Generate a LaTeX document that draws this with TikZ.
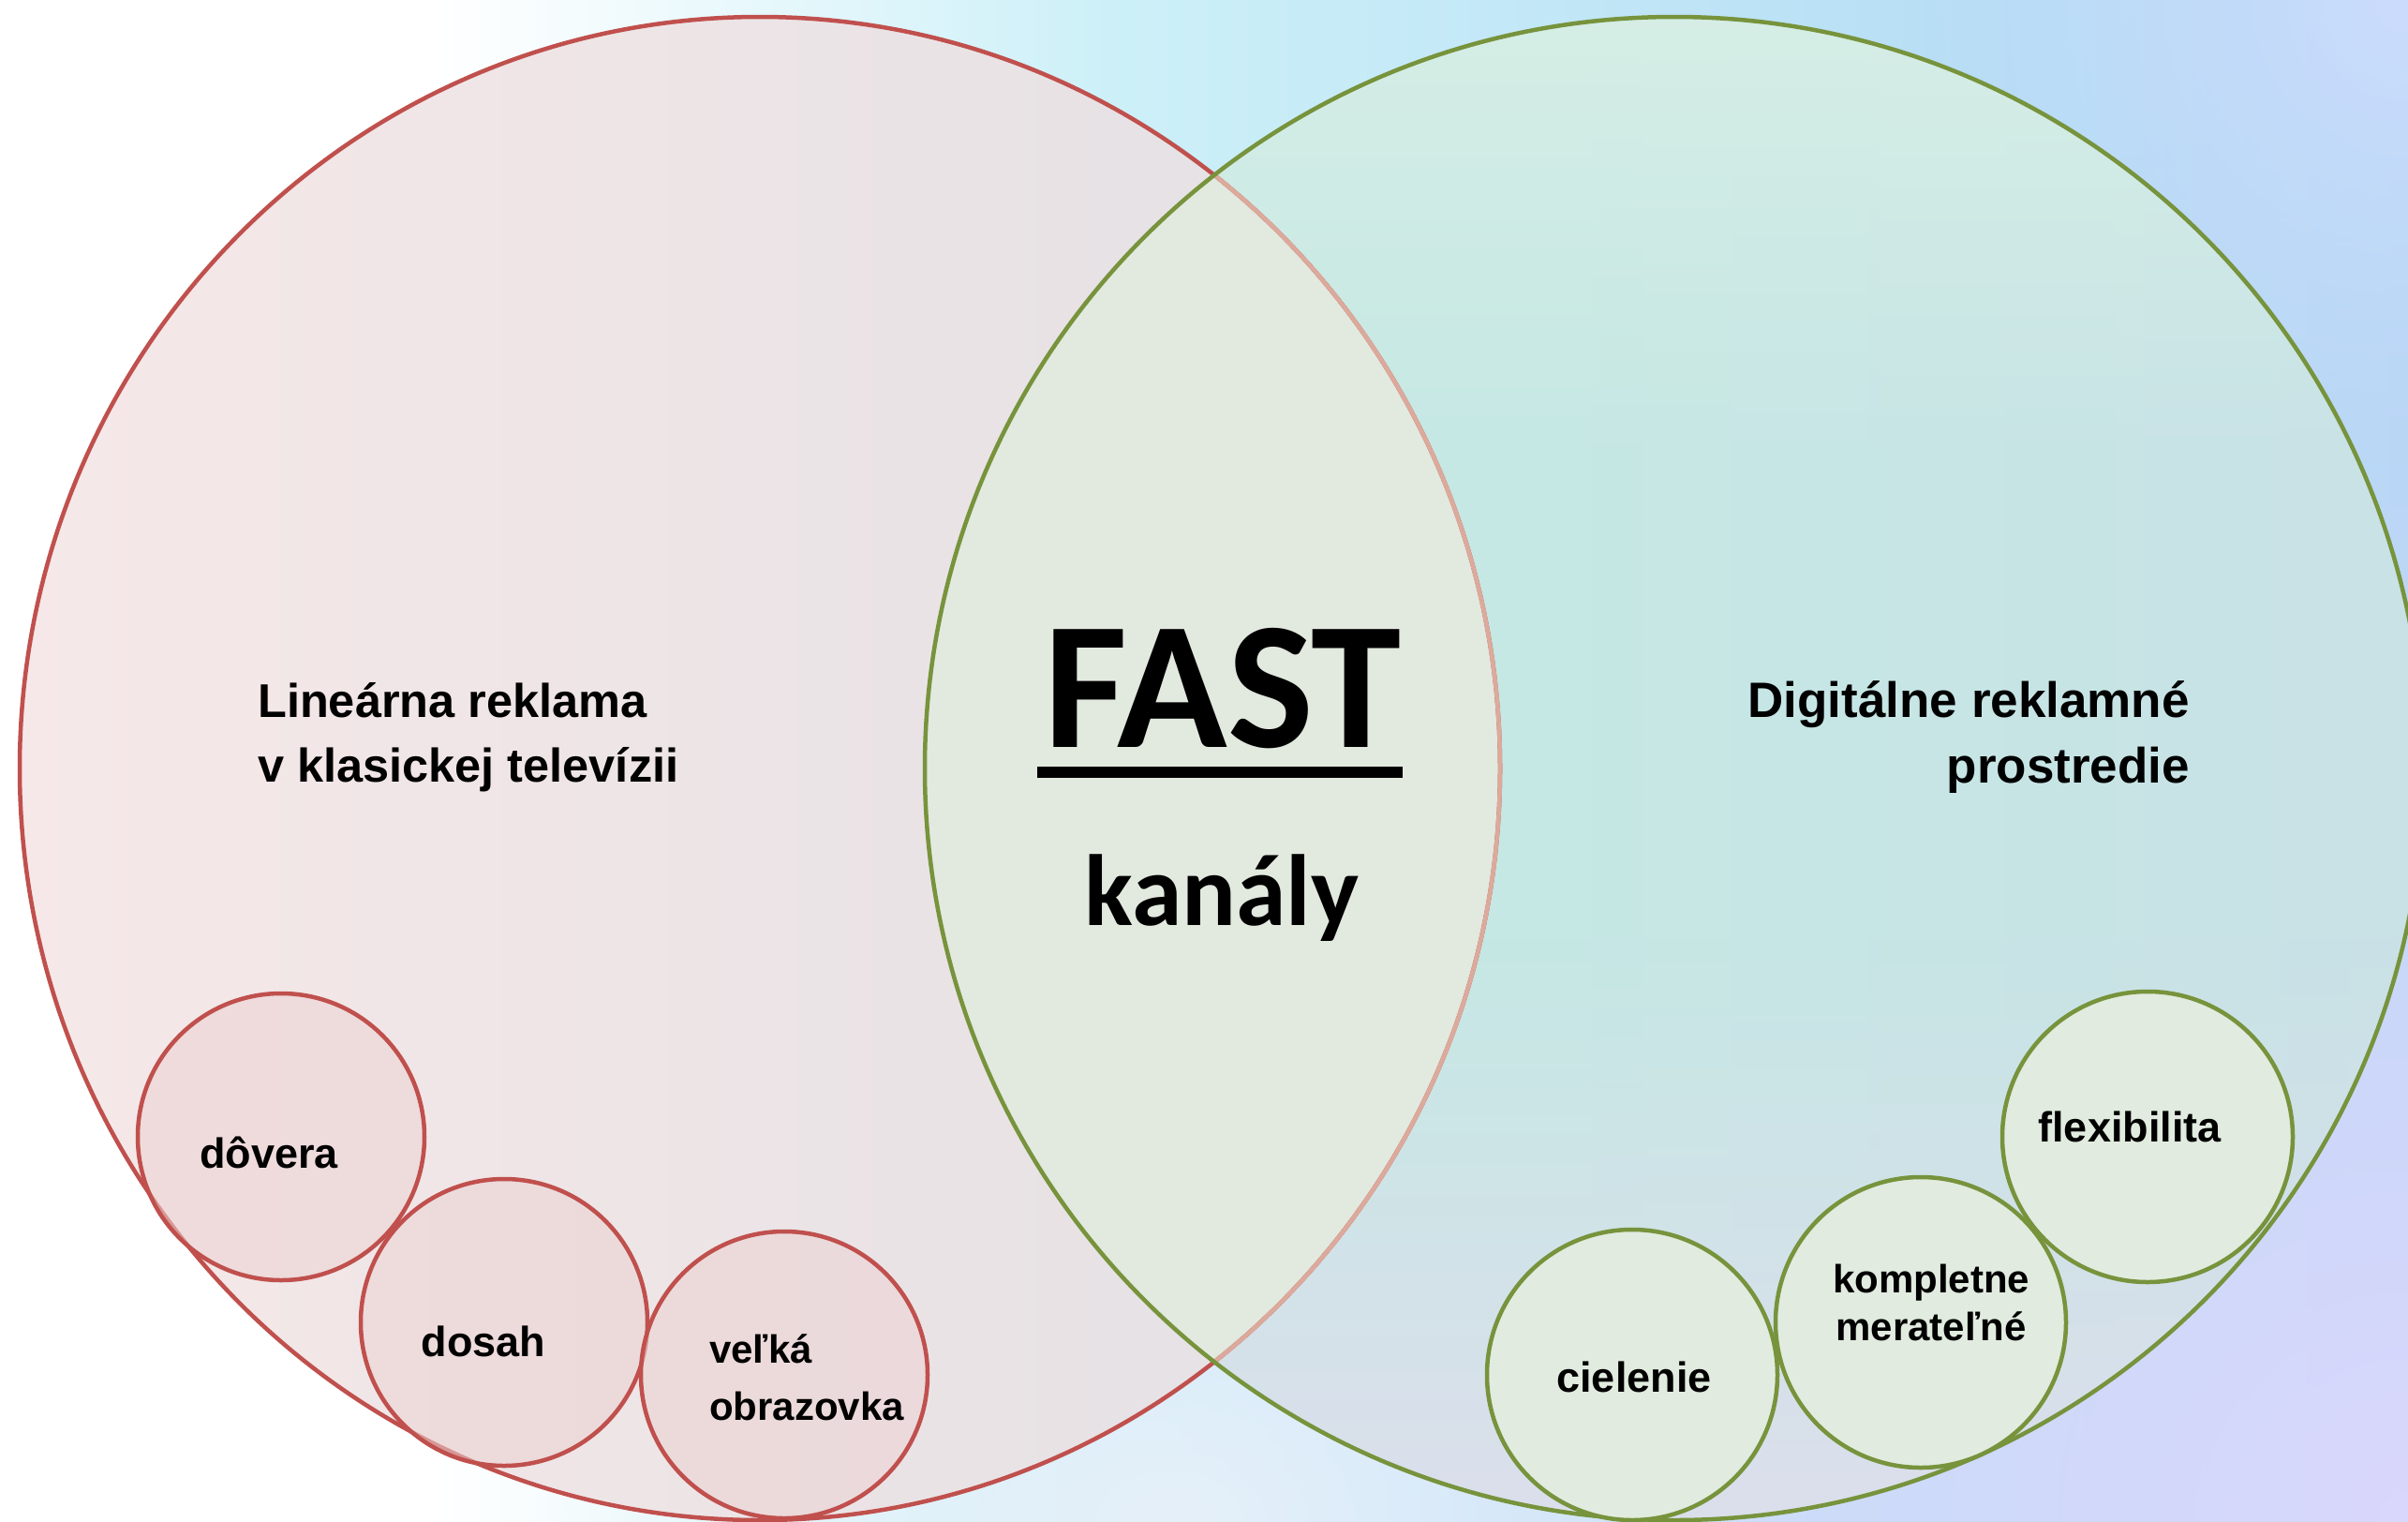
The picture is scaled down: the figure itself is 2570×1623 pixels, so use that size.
\documentclass[tikz,border=0pt]{standalone}
\usepackage{fontspec}
\setmainfont{Liberation Sans}
\newfontfamily\calfont{Carlito}
\usetikzlibrary{fadings}
\definecolor{bgA}{HTML}{CDF0F8}
\definecolor{bgB}{HTML}{B0D8F4}
\definecolor{bgC}{HTML}{A2C8F4}
\definecolor{bglav}{HTML}{DAD8FC}
\definecolor{bgtop}{HTML}{CCDCFC}
\definecolor{bgbot}{HTML}{E6F0FA}
\definecolor{lA}{HTML}{F6E8E8}
\definecolor{lB}{HTML}{E2E0E4}
\definecolor{rA}{HTML}{C5E8E4}
\definecolor{rB}{HTML}{CCDCE8}
\definecolor{rtop}{HTML}{D6EEE6}
\definecolor{rbot}{HTML}{DCDFEC}
\definecolor{interfill}{HTML}{E2E9DF}
\definecolor{redline}{HTML}{C0504D}
\definecolor{fadedred}{HTML}{DCAA9C}
\definecolor{greenline}{HTML}{77933C}
\definecolor{redsmallfill}{HTML}{ECD2D2}
\definecolor{greensmallfill}{HTML}{E1EBDF}
\pgfdeclarehorizontalshading{bgshade}{100bp}{color(0bp)=(white); color(34bp)=(white); color(48bp)=(bgA); color(72bp)=(bgB); color(100bp)=(bgC)}
\pgfdeclarehorizontalshading{rshade}{100bp}{color(0bp)=(rA); color(45bp)=(rA); color(100bp)=(rB)}
\tikzfading[name=radfade, inner color=transparent!0, outer color=transparent!100]
\tikzfading[name=fadeup, top color=transparent!100, bottom color=transparent!0]
\tikzfading[name=fadedown, top color=transparent!0, bottom color=transparent!100]
\tikzset{
  bigline/.style={line width=4.5pt},
  redsmall/.style={circle, draw=redline, line width=4.5pt, fill=redsmallfill, fill opacity=0.55, draw opacity=1, minimum size=306pt, inner sep=0pt},
  greensmall/.style={circle, draw=greenline, line width=4.5pt, fill=greensmallfill, minimum size=310pt, inner sep=0pt},
  lbl/.style={font=\fontsize{45}{50}\selectfont\bfseries, inner sep=0pt, text=black},
  lbltwo/.style={font=\fontsize{42}{50}\selectfont\bfseries, inner sep=0pt, text=black},
  biglbl/.style={font=\fontsize{50.5}{60}\selectfont\bfseries, inner sep=0pt, text=black},
  rbiglbl/.style={font=\fontsize{53}{60}\selectfont\bfseries, inner sep=0pt, text=black},
}
\begin{document}
\begin{tikzpicture}[x=1pt,y=1pt]
\useasboundingbox (0,-1623) rectangle (2570,0);
\clip (0,-1623) rectangle (2570,0);
% background
\shade[shading=bgshade] (0,-1623) rectangle (2570,0);
\fill[bglav, path fading=radfade] (2570,-1623) circle (1500);
\fill[bgtop, path fading=radfade] (2570,0) circle (520);
\fill[bgbot, path fading=radfade] (1250,-1623) ellipse [x radius=650, y radius=450];
% left big circle fill
\shade[left color=lA, right color=lB] (811,-820) ellipse [x radius=790, y radius=802];
% right big circle fill
\shade[shading=rshade] (1787,-820) ellipse [x radius=800, y radius=802];
\begin{scope}
  \clip (1787,-820) ellipse [x radius=800, y radius=802];
  \fill[rtop, path fading=fadedown] (900,0) rectangle (2600,-500);
  \fill[rbot, path fading=fadeup] (900,-1623) rectangle (2600,-1000);
  \fill[interfill] (811,-820) ellipse [x radius=790, y radius=802];
\end{scope}
% strokes
\draw[bigline, redline] (811,-820) ellipse [x radius=790, y radius=802];
\begin{scope}
  \clip (1787,-820) ellipse [x radius=800, y radius=802];
  \draw[bigline, fadedred] (811,-820) ellipse [x radius=790, y radius=802];
\end{scope}
\draw[bigline, greenline] (1787,-820) ellipse [x radius=800, y radius=802];
% small circles
\node[redsmall] (c1) at (300,-1213) {};
\node[redsmall] (c2) at (538,-1411) {};
\node[redsmall] (c3) at (837,-1467) {};
\node[greensmall] (c4) at (1742,-1467) {};
\node[greensmall] (c5) at (2050,-1411) {};
\node[greensmall] (c6) at (2292,-1213) {};
% main labels
\node[biglbl, anchor=base west] (l1) at (275,-765) {Lineárna reklama};
\node[biglbl, anchor=base west] (l2) at (275,-834) {v klasickej televízii};
\node[rbiglbl, anchor=base east] (r1) at (2337,-765) {Digitálne reklamné};
\node[rbiglbl, anchor=base east] (r2) at (2337,-835) {prostredie};
% FAST
\node[font=\calfont\bfseries\fontsize{194}{194}\selectfont, anchor=base, inner sep=0pt] (fast) at (1305,-797) {FAST};
\fill[black] (1107,-818) rectangle (1497,-830);
\node[font=\calfont\bfseries\fontsize{108}{108}\selectfont, anchor=base, inner sep=0pt] (kanaly) at (1304,-987) {kanály};
% small labels
\node[lbl, anchor=base] (t1) at (287,-1246) {dôvera};
\node[lbl, anchor=base] (t2) at (516,-1447) {dosah};
\node[lbltwo, anchor=base west] (t3a) at (757,-1454) {veľká};
\node[lbltwo, anchor=base west] (t3b) at (757,-1515) {obrazovka};
\node[lbl, anchor=base] (t4) at (1744,-1485) {cielenie};
\node[lbltwo, anchor=base] (t5a) at (2061,-1379) {kompletne};
\node[lbltwo, anchor=base] (t5b) at (2061,-1430) {merateľné};
\node[lbl, anchor=base] (t6) at (2273,-1218) {flexibilita};
\end{tikzpicture}
\end{document}
